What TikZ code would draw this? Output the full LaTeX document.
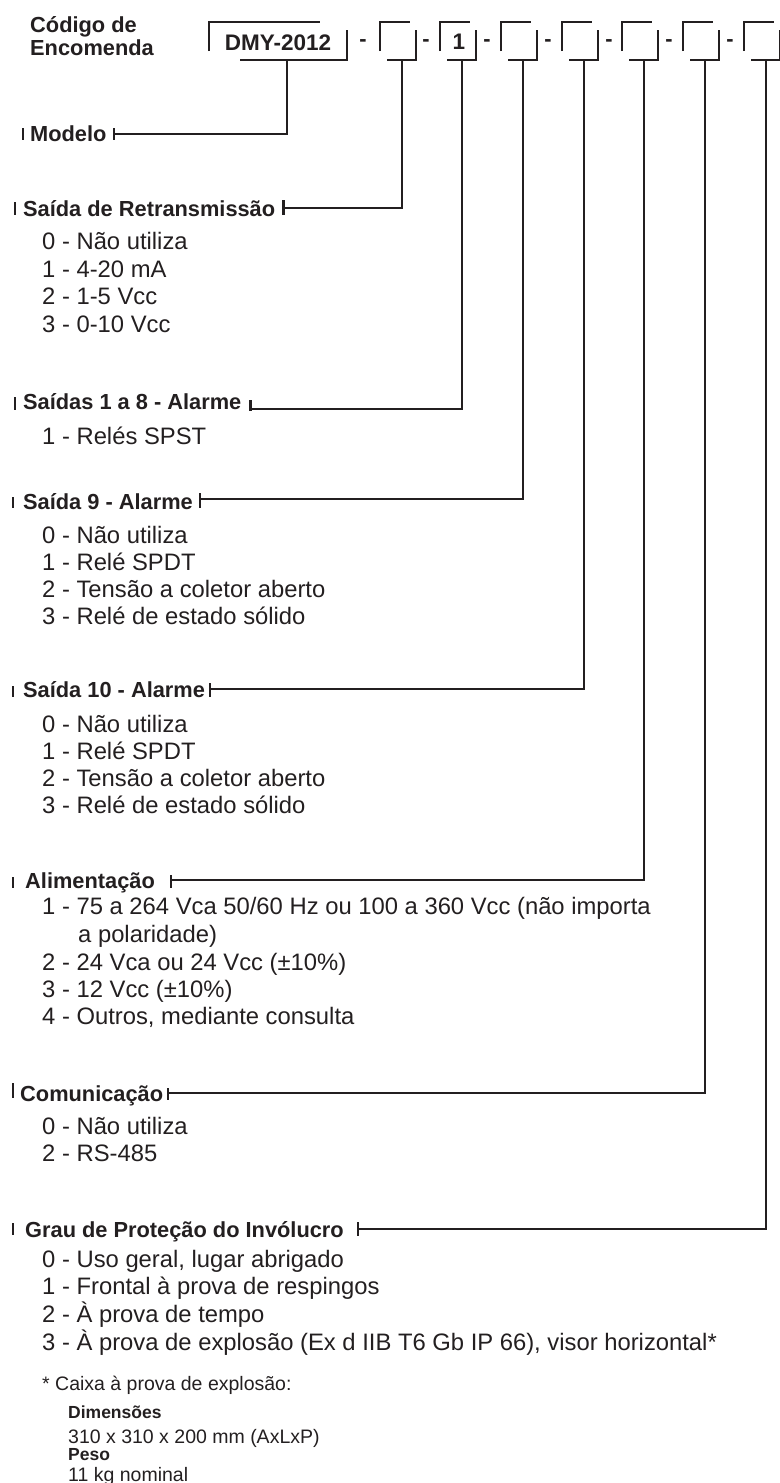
\documentclass[tikz,border=0pt]{standalone}
\usepackage{fontspec}
\setmainfont{Liberation Sans}
\usetikzlibrary{calc}
\definecolor{ink}{RGB}{35,31,32}
\tikzset{
  conn/.style={draw=ink, line width=2.4pt, line join=miter},
  tickln/.style={draw=ink, line width=2.2pt},
  head/.style={anchor=base west, inner sep=0pt, text=ink, font=\fontsize{21.8}{24}\selectfont\bfseries},
  item/.style={anchor=base west, inner sep=0pt, text=ink, font=\fontsize{23.8}{26}\selectfont},
  note/.style={anchor=base west, inner sep=0pt, text=ink, font=\fontsize{19.5}{22}\selectfont},
  noteb/.style={anchor=base west, inner sep=0pt, text=ink, font=\fontsize{17.5}{20}\selectfont\bfseries},
  sep/.style={anchor=base, inner sep=0pt, text=ink, font=\fontsize{21.8}{24}\selectfont\bfseries},
  boxlbl/.style={anchor=base, inner sep=0pt, text=ink, font=\fontsize{22.5}{24}\selectfont\bfseries},
}
\newcommand\codebox[2]{%
  \draw[conn] ({#1},51) -- ({#1},22) -- ({#1+30},22);
  \draw[conn] ({#1+7},60) -- ({#1+36},60) -- ({#1+36},30);
  \coordinate (#2) at ({#1+22},60);
}
\begin{document}
\begin{tikzpicture}[x=1pt,y=-1pt]
\useasboundingbox (0,0) rectangle (779,1483);

% ---------- header ----------
\node[head] (cod1) at (30,32) {Código de};
\node[head] (cod2) at (30,55) {Encomenda};

\draw[conn] (209,51) -- (209,22) -- (320,22);
\draw[conn] (240,60) -- (347,60) -- (347,30);
\coordinate (b0) at (287,60);
\node[boxlbl] (dmy) at (278,50) {DMY-2012};

\codebox{380}{b1}
\codebox{440}{b2}
\codebox{501}{b3}
\codebox{562}{b4}
\codebox{622}{b5}
\codebox{683}{b6}
\codebox{744}{b7}
\node[boxlbl] (one) at (459,49) {1};

\node[sep] (d0) at (363,46) {-};
\node[sep] (d1) at (426,46) {-};
\node[sep] (d2) at (487,46) {-};
\node[sep] (d3) at (548,46) {-};
\node[sep] (d4) at (609,46) {-};
\node[sep] (d5) at (669,46) {-};
\node[sep] (d6) at (730,46) {-};

% ---------- Modelo ----------
\node[head] (h0) at (30,141) {Modelo};
\draw[tickln] (23,128) -- (23,140);
\coordinate (t0) at ($(h0.base east)+(7,-7)$);
\draw[tickln] ($(t0)+(0,-6)$) -- ($(t0)+(0,6)$);
\draw[conn] (b0) |- (t0);

% ---------- Saída de Retransmissão ----------
\node[head] (h1) at (23,216.5) {Saída de Retransmissão};
\draw[tickln] (15,202) -- (15,215);
\coordinate (t1) at ($(h1.base east)+(8,-8.5)$);
\draw[tickln] ($(t1)+(0,-8)$) -- ($(t1)+(0,7)$);
\draw[conn] (b1) |- (t1);
\node[item] (i10) at (42,249) {0 - Não utiliza};
\node[item] (i11) at (42,277) {1 - 4-20 mA};
\node[item] (i12) at (42,304) {2 - 1-5 Vcc};
\node[item] (i13) at (42,332) {3 - 0-10 Vcc};

% ---------- Saídas 1 a 8 ----------
\node[head] (h2) at (23,409) {Saídas 1 a 8 - Alarme};
\draw[tickln] (15,397) -- (15,410);
\coordinate (t2) at ($(h2.base east)+(9,0)$);
\draw[tickln] ($(t2)+(0,-9)$) -- ($(t2)+(0,2)$);
\draw[conn] (b2) |- (t2);
\node[item] (i20) at (42,444) {1 - Relés SPST};

% ---------- Saída 9 ----------
\node[head] (h3) at (23,509) {Saída 9 - Alarme};
\draw[tickln] (13,497) -- (13,508);
\coordinate (t3) at ($(h3.base east)+(7,-10)$);
\draw[tickln] ($(t3)+(0,-6)$) -- ($(t3)+(0,9)$);
\draw[conn] (b3) |- (t3);
\node[item] (i30) at (42,543) {0 - Não utiliza};
\node[item] (i31) at (42,570) {1 - Relé SPDT};
\node[item] (i32) at (42,597) {2 - Tensão a coletor aberto};
\node[item] (i33) at (42,624) {3 - Relé de estado sólido};

% ---------- Saída 10 ----------
\node[head] (h4) at (23,697) {Saída 10 - Alarme};
\draw[tickln] (13,686) -- (13,697);
\coordinate (t4) at ($(h4.base east)+(5,-8)$);
\draw[tickln] ($(t4)+(0,-6)$) -- ($(t4)+(0,8)$);
\draw[conn] (b4) |- (t4);
\node[item] (i40) at (42,732) {0 - Não utiliza};
\node[item] (i41) at (42,759) {1 - Relé SPDT};
\node[item] (i42) at (42,786) {2 - Tensão a coletor aberto};
\node[item] (i43) at (42,813) {3 - Relé de estado sólido};

% ---------- Alimentação ----------
\node[head] (h5) at (25,888) {Alimentação};
\draw[tickln] (13,877) -- (13,888);
\coordinate (t5) at ($(h5.base east)+(16,-8)$);
\draw[tickln] ($(t5)+(0,-5)$) -- ($(t5)+(0,8)$);
\draw[conn] (b5) |- (t5);
\node[item] (i50) at (42,914) {1 - 75 a 264 Vca 50/60 Hz ou 100 a 360 Vcc (não importa};
\node[item] (i50b) at (78,942) {a polaridade)};
\node[item] (i51) at (42,970) {2 - 24 Vca ou 24 Vcc (±10\%)};
\node[item] (i52) at (42,997) {3 - 12 Vcc (±10\%)};
\node[item] (i53) at (42,1024) {4 - Outros, mediante consulta};

% ---------- Comunicação ----------
\node[head] (h6) at (20,1101) {Comunicação};
\draw[tickln] (13,1083) -- (13,1098);
\coordinate (t6) at ($(h6.base east)+(5,-8)$);
\draw[tickln] ($(t6)+(0,-5)$) -- ($(t6)+(0,7)$);
\draw[conn] (b6) |- (t6);
\node[item] (i60) at (42,1134) {0 - Não utiliza};
\node[item] (i61) at (42,1161) {2 - RS-485};

% ---------- Grau de Proteção ----------
\node[head] (h7) at (25,1237) {Grau de Proteção do Invólucro};
\draw[tickln] (13,1223) -- (13,1235);
\coordinate (t7) at ($(h7.base east)+(14,-8)$);
\draw[tickln] ($(t7)+(0,-7)$) -- ($(t7)+(0,7)$);
\draw[conn] (b7) |- (t7);
\node[item] (i70) at (42,1267) {0 - Uso geral, lugar abrigado};
\node[item] (i71) at (42,1294) {1 - Frontal à prova de respingos};
\node[item] (i72) at (42,1322) {2 - À prova de tempo};
\node[item] (i73) at (42,1350) {3 - À prova de explosão (Ex d IIB T6 Gb IP 66), visor horizontal*};

% ---------- footnote ----------
\node[note] (n0) at (42,1390) {* Caixa à prova de explosão:};
\node[noteb] (n1) at (68,1418) {Dimensões};
\node[note] (n2) at (68,1443) {310 x 310 x 200 mm (AxLxP)};
\node[noteb] (n3) at (68,1460) {Peso};
\node[note] (n4) at (68,1481) {11 kg nominal};
\end{tikzpicture}
\end{document}
